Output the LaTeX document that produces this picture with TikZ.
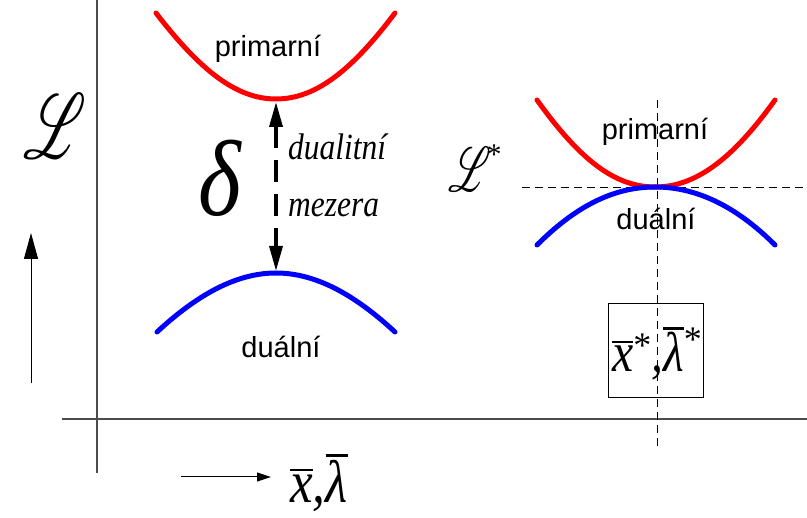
\documentclass[tikz,border=0pt]{standalone}
\usepackage{fontspec}
\usepackage{graphicx}
\usepackage{mathrsfs}
\usetikzlibrary{arrows.meta}
\newfontfamily\sansf{Liberation Sans}
\newfontfamily\itf{Liberation Serif Italic}[FakeStretch=0.85]
\newfontfamily\serf{Liberation Serif}
\newcommand{\ovlbar}[2]{\leavevmode\vbox{\hrule height 2.5pt\kern #2\hbox{#1}}}
\begin{document}
\begin{tikzpicture}[x=1pt,y=-1pt,
  axis/.style={draw=black!70,line width=1.5pt},
  redc/.style={draw=red,line width=5pt,line cap=round},
  bluec/.style={draw=blue,line width=5pt,line cap=round},
  thinarrow/.style={draw=black,line width=1pt},
  gaparrow/.style={draw=black,line width=3.5pt,dash pattern=on 22pt off 12pt,
     {Triangle[length=25pt,width=13pt]}-{Triangle[length=25pt,width=13pt]}},
  guide/.style={draw=black,line width=0.9pt,dash pattern=on 8pt off 5pt},
  lbl/.style={inner sep=0pt,anchor=base,font=\sansf\fontsize{29}{29}\selectfont},
  itlbl/.style={inner sep=0pt,anchor=base west,font=\itf\fontsize{37}{37}\selectfont},
  plain/.style={inner sep=0pt}]
\useasboundingbox (0,0) rectangle (807,518);
% axes
\coordinate (vtop) at (97,0);
\coordinate (vbot) at (97,473);
\coordinate (hl) at (62,419);
\coordinate (hr) at (807,419);
\draw[axis] (vtop) -- (vbot);
\draw[axis] (hl) -- (hr);
% side arrows
\coordinate (ua0) at (31,383);
\coordinate (ua1) at (31,233);
\draw[thinarrow,-{Triangle[length=26pt,width=14pt]}] (ua0) -- (ua1);
\coordinate (ra0) at (181,477);
\coordinate (ra1) at (271,477);
\draw[thinarrow,-{Triangle[length=14pt,width=9pt]}] (ra0) -- (ra1);
% left curves
\coordinate (rmin) at (276,99);
\coordinate (bmax) at (276,273);
\draw[redc] (156,13) .. controls (200,70) and (236,99) .. (rmin) .. controls (316,99) and (352,70) .. (395,13);
\draw[bluec] (157,332) .. controls (197,295) and (236,273) .. (bmax) .. controls (316,273) and (355,295) .. (395,332);
\coordinate (ga0) at (276,102);
\coordinate (ga1) at (276,271);
\draw[gaparrow] (ga0) -- (ga1);
% right guides
\coordinate (gh0) at (522,187);
\coordinate (gh1) at (807,187);
\coordinate (gv0) at (657,100);
\coordinate (gv1) at (657,447);
\draw[guide] (gh0) -- (gh1);
\draw[guide] (gv0) -- (gv1);
% right curves
\coordinate (touch) at (655,187);
\draw[redc] (537,100) .. controls (580,160) and (615,187) .. (touch) .. controls (695,187) and (732,160) .. (775,100);
\draw[bluec] (537,245) .. controls (577,205) and (615,187) .. (touch) .. controls (695,187) and (735,205) .. (775,245);
% labels
\node[lbl] (p1) at (268,57) {primarní};
\node[lbl] (d1) at (281,358) {duální};
\node[lbl] (p2) at (655,140) {primarní};
\node[lbl] (d2) at (656,230) {duální};
\node[itlbl] (dg1) at (288,160) {dualitní};
\node[itlbl] (dg2) at (288,217) {mezera};
\node[plain,anchor=base] (delta) at (220,216) {\itf\fontsize{108}{108}\selectfont δ};
\node[plain] (L1) at (55,126) {\scalebox{5.9}[9.2]{$\mathscr{L}$}};
\node[plain] (L2) at (470,169) {\scalebox{4}[6.3]{$\mathscr{L}$}};
\node[plain] (L2s) at (494,155) {\serf\fontsize{30}{30}\selectfont *};
\node[plain,anchor=base west] (xl) at (290,503) {\itf\fontsize{60}{60}\selectfont\ovlbar{x}{4pt},\ovlbar{λ}{4pt}};
\node[draw=black,line width=0.9pt,minimum width=95pt,minimum height=94pt,inner sep=0pt] (box) at (655.5,350) {};
\node[plain,anchor=base] (xls) at (657,372) {\itf\fontsize{56}{56}\selectfont\ovlbar{x}{3pt}\raisebox{14pt}{\serf\fontsize{36}{36}\selectfont *},\ovlbar{λ}{3pt}\raisebox{20pt}{\serf\fontsize{36}{36}\selectfont *}};
\end{tikzpicture}
\end{document}
